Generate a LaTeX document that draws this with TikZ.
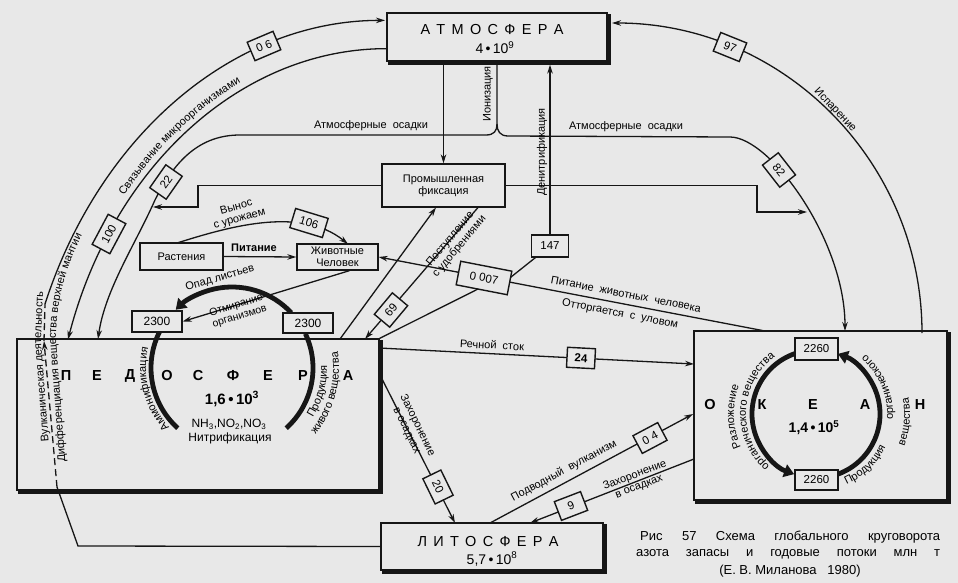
\documentclass[tikz,border=0pt]{standalone}
\usepackage{fontspec}
\setmainfont{Liberation Sans}
\usetikzlibrary{arrows.meta,calc,decorations.text}
\definecolor{bg}{HTML}{E8E8E8}
\definecolor{ink}{HTML}{161616}
\newcommand\labfont{\fontsize{11}{12}\selectfont}
\newcommand\boxshadow[1]{\draw[ink,line width=3.2pt] ($(#1.north east)+(1.4,2)$) -- ($(#1.south east)+(1.4,1.4)$) -- ($(#1.south west)+(2,1.4)$);}
\begin{document}
\begin{tikzpicture}[x=1pt,y=-1pt,
  ln/.style={draw=ink,line width=1.3pt},
  ar/.style={ln,-{Stealth[length=9pt,width=5.5pt]}},
  heavy/.style={draw=ink,line width=4.8pt},
  heavyar/.style={heavy,-{Triangle[length=10pt,width=13pt]}},
  bigbox/.style={draw=ink,line width=1.3pt,fill=bg,inner sep=0pt},
  box/.style={draw=ink,line width=1.3pt,fill=bg,inner sep=1pt,align=center,font=\fontsize{11}{12}\selectfont},
  val/.style={draw=ink,line width=1.4pt,fill=bg,inner sep=1pt,minimum width=28pt,minimum height=20pt,font=\fontsize{11.5}{11.5}\selectfont},
  lbl/.style={font=\labfont,inner sep=0pt,align=center},
  big/.style={font=\fontsize{14.5}{14.5}\selectfont\bfseries,inner sep=0pt},
  txtpath/.style={decorate,decoration={text along path,text align=center,text={|\labfont|#1}}},
]
\fill[bg] (0,0) rectangle (958,583);
\useasboundingbox (0,0) rectangle (958,583);

% ---------- main boxes
\node[bigbox,minimum width=220pt,minimum height=48pt] (atm) at (497,37) {};
\node[bigbox,minimum width=222pt,minimum height=47pt] (lith) at (492,546.5) {};
\node[bigbox,minimum width=362pt,minimum height=151pt] (ped) at (198,414.5) {};
\node[bigbox,minimum width=253pt,minimum height=169pt] (ocean) at (820.5,415.5) {};
\boxshadow{atm}
\boxshadow{lith}
\boxshadow{ped}
\boxshadow{ocean}
\node[box,minimum width=123pt,minimum height=43pt] (ind) at (443.5,185.5) {Промышленная\\фиксация};
\node[box,minimum width=83pt,minimum height=27pt] (rast) at (181.5,256.5) {Растения};
\node[box,minimum width=81pt,minimum height=26pt] (anim) at (337.5,257) {Животные\\Человек};

% ---------- coordinates of value boxes
\coordinate (c06) at (264,46);
\coordinate (c100) at (109,234);
\coordinate (c22) at (166,182);
\coordinate (c82) at (779,170);
\coordinate (c97) at (730,47);
\coordinate (c147) at (550,246);
\coordinate (c0007) at (484,278);
\coordinate (c69) at (391,310);
\coordinate (c24) at (581,358);
\coordinate (c20) at (438,487);
\coordinate (c04) at (650,438);
\coordinate (c9) at (571,506);
\coordinate (c106) at (309,223);
\coordinate (pc) at (232,368);
\coordinate (oc) at (816,414);

% ---------- pedosphere cycle
\draw[heavy] ($(pc)+(207:81)$) arc[start angle=207,end angle=132,radius=81];
\draw[heavy] ($(pc)+(48:81)$) arc[start angle=48,end angle=-25,radius=81];
\draw[heavyar] ($(pc)+(-43:81)$) arc[start angle=-43,end angle=-134,radius=81];
\node[box,minimum width=50pt,minimum height=21pt,font=\fontsize{12}{12}\selectfont] (p2300a) at (157,321.5) {2300};
\node[box,minimum width=50pt,minimum height=20pt,font=\fontsize{12}{12}\selectfont] (p2300b) at (308,323) {2300};

% ---------- ocean cycle
\draw[heavyar] ($(oc)+(251:64)$) arc[start angle=251,end angle=110,radius=64];
\draw[heavyar] ($(oc)+(70:64)$) arc[start angle=70,end angle=-70,radius=64];
\node[box,minimum width=43pt,minimum height=22pt,font=\fontsize{11.5}{11.5}\selectfont] (o2260a) at (816.5,349) {2260};
\node[box,minimum width=43pt,minimum height=20pt,font=\fontsize{11.5}{11.5}\selectfont] (o2260b) at (816.5,480) {2260};

% ---------- atmosphere links
\draw[ar] (atm.south -| ind.north) -- (ind.north);
\draw[ar] (c147) -- ($(c147 |- atm.south)+(0,3)$);
\draw[ln] (c147) -- (506,281);
\draw[ln] (ped.north east) -- (486,285);
% ionisation / precipitation
\draw[ar] (atm.south) -- (497,124) .. controls (497,131) and (494,135) .. (486,135) -- (240,135)
   .. controls (200,135) and (175,160) .. (155,200) .. controls (135,245) and (105,290) .. (98,339);
\draw[ar] (497,124) .. controls (497,131) and (500,136) .. (508,136) -- (730,137)
   .. controls (770,137) and (845,240) .. (845,331);
% industrial fixation outputs
\draw[ar] (ind.west) -- (198,185.5) -- (198,207) -- (153,207);
\draw[ar] (ind.east) -- (757,185.5) -- (757,212) -- (807,212);
% microorganisms (100)
\draw[ar] ($(atm.south west)+(0,-13)$) arc[start angle=270,end angle=198.1,x radius=335,y radius=422];
% volcanism (0.6)
\coordinate (vtop) at (45,304);
\draw[ar] (vtop) arc[start angle=201.7,end angle=270,x radius=366,y radius=450];
\draw[ln] (lith.west) -- (78,546) -- (57,487);
\draw[ar,dash pattern=on 7pt off 4pt] (57,487) -- (44,341);
\draw[ln,dash pattern=on 7pt off 4pt] (44,341) -- (vtop);
% evaporation (97)
\draw[ar] (922,333) arc[start angle=0,end angle=-90,radius=310];
% plants / animals
\draw[ar] (rast.east) -- (anim.west);
\draw[ar] (177,243) .. controls (225,228) and (300,205) .. (348,244);
\draw[ar] ($(anim.south)+(12,0)$) -- (p2300a.east);
\draw[ar] (765,331) -- (anim.east);
% fertilisers
\draw[ar] (340,339) -- (436,207.5);
\draw[ar] (478,207.5) -- (365,339);
% river, burial, submarine volcanism
\draw[ar] (379,348) -- (694,364);
\draw[ar] (379,373) -- (455,523);
\draw[ar] (490,523) -- (693,414);
\draw[ar] (694,459) -- (530,523);

% ---------- value boxes
\node[val,rotate=23] (v06) at (c06) {0 6};
\node[val,rotate=62,minimum width=34pt] (v100) at (c100) {100};
\node[val,rotate=55] (v22) at (c22) {22};
\node[val,rotate=-52] (v82) at (c82) {82};
\node[val,rotate=-22] (v97) at (c97) {97};
\node[val,minimum width=37pt,minimum height=22pt] (v147) at (c147) {147};
\node[val,rotate=-11,minimum width=52pt,minimum height=24pt] (v0007) at (c0007) {0 007};
\node[val,rotate=50] (v69) at (c69) {69};
\node[val,rotate=-3] (v24) at (c24) {\bfseries 24};
\node[val,rotate=-64] (v20) at (c20) {20};
\node[val,rotate=28] (v04) at (c04) {0 4};
\node[val,rotate=21] (v9) at (c9) {9};
\node[val,rotate=-17,minimum width=34pt] (v106) at (c106) {106};

% ---------- box texts
\node[font=\fontsize{14.5}{14.5}\selectfont] at (492,30) {\makebox[143pt]{А\hfill Т\hfill М\hfill О\hfill С\hfill Ф\hfill Е\hfill Р\hfill А}};
\node[font=\fontsize{14}{14}\selectfont] at (495,48) {4\,•\,10\textsuperscript{9}};
\node[font=\fontsize{14.5}{14.5}\selectfont] at (488,542) {\makebox[141pt]{Л\hfill И\hfill Т\hfill О\hfill С\hfill Ф\hfill Е\hfill Р\hfill А}};
\node[font=\fontsize{14}{14}\selectfont] at (492,559) {5,7\,•\,10\textsuperscript{8}};
\foreach \ch/\xx in {П/66,Е/97,Д/130,О/167,С/198,Ф/233,Е/268,Р/303,А/348}
  \node[big] at (\xx,376) {\ch};
\node[font=\fontsize{15}{15}\selectfont\bfseries] at (232,399) {1,6\,•\,10\textsuperscript{3}};
\node[lbl,font=\fontsize{12}{12}\selectfont] at (229,424) {NH\textsubscript{3},NO\textsubscript{2},NO\textsubscript{3}};
\node[lbl,font=\fontsize{12}{12}\selectfont] at (230,438) {Нитрификация};
\foreach \ch/\xx in {О/710,К/762,Е/813,А/865,Н/920}
  \node[big] at (\xx,405) {\ch};
\node[font=\fontsize{14}{14}\selectfont\bfseries] at (814,428) {1,4\,•\,10\textsuperscript{5}};

% ---------- labels
\node[lbl] at (371,126) {Атмосферные\ \ осадки};
\node[lbl] at (626,127) {Атмосферные\ \ осадки};
\node[lbl,rotate=90] at (488,94) {Ионизация};
\node[lbl,rotate=90] at (542,152) {Денитрификация};
\node[lbl,rotate=-47] at (835,110) {Испарение};
\node[lbl,rotate=-3] at (492,345) {Речной\ \ сток};
\node[lbl,rotate=-11] at (626,294) {Питание\ \ животных\ \ человека};
\node[lbl,rotate=-11] at (620,314) {Отторгается\ \ с\ \ уловом};
\node[lbl,rotate=28] at (564,471) {Подводный\ \ вулканизм};
\node[lbl,rotate=21] at (637,481) {Захоронение\\в осадках};
\node[lbl,rotate=-64] at (412,428) {Захоронение\\в осадках};
\node[lbl,rotate=50] at (455,243) {Поступление\\с удобрениями};
\node[lbl] at (254,248) {\bfseries Питание};
\node[lbl,rotate=15] at (238,213) {Вынос\\с урожаем};
\node[lbl,rotate=17,font=\fontsize{10.5}{11.5}\selectfont] at (238,311) {Отмирание\\организмов};
\node[lbl,rotate=16] at (220,278) {Опад листьев};

\path[txtpath={Связывание микроорганизмами}] ($(386,470)+(205:341 and 428)$) arc[start angle=205,end angle=262,x radius=341,y radius=428];
\path[txtpath={Вулканическая деятельность}] (50,458) -- (41,340) -- (44,275);
\path[txtpath={Дифференциация вещества верхней мантии}] (66,470) -- (56,340) .. controls (56,300) and (66,265) .. (86,228);
\path[txtpath={Аммонификация}] ($(pc)+(118:86)$) arc[start angle=118,end angle=212,radius=86];
\path[txtpath={Продукция}] ($(pc)+(60:95)$) arc[start angle=60,end angle=-30,radius=95];
\path[txtpath={живого вещества}] ($(pc)+(65:107)$) arc[start angle=65,end angle=-35,radius=107];
\path[txtpath={Разложение}] ($(oc)+(105:82)$) arc[start angle=105,end angle=251,radius=82];
\path[txtpath={органического вещества}] ($(oc)+(90:70)$) arc[start angle=90,end angle=276,radius=70];
\path[txtpath={Продукция}] ($(oc)+(92:77)$) arc[start angle=92,end angle=0,radius=77];
\path[txtpath={органического}] ($(oc)+(35:77)$) arc[start angle=35,end angle=-81,radius=77];
\path[txtpath={вещества}] ($(oc)+(60:94)$) arc[start angle=60,end angle=-50,radius=94];

% ---------- caption
\node[anchor=base west,font=\fontsize{13}{13}\selectfont,inner sep=0pt] at (640,540) {\makebox[300pt][s]{Рис \ 57 \ Схема \ глобального \ круговорота}};
\node[anchor=base west,font=\fontsize{13}{13}\selectfont,inner sep=0pt] at (636,556) {\makebox[304pt][s]{азота \ запасы \ и \ годовые \ потоки \ млн \ т}};
\node[anchor=base,font=\fontsize{13}{13}\selectfont,inner sep=0pt] at (790,574) {(Е.\ В.\ Миланова\ \ \ 1980)};
\end{tikzpicture}
\end{document}
